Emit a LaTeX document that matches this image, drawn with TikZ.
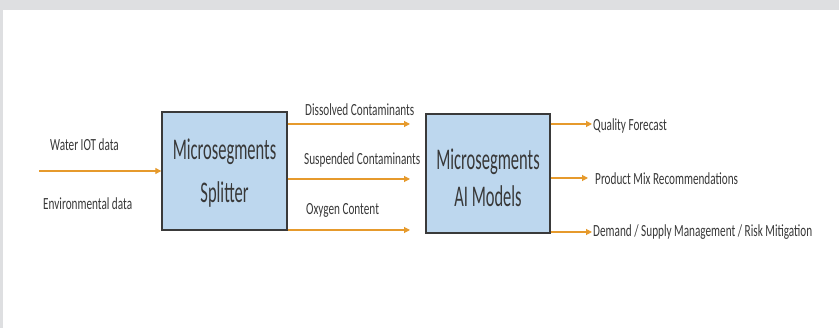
\documentclass[tikz,border=0pt]{standalone}
\usepackage{fontspec}
\usetikzlibrary{arrows.meta}
\newfontfamily\labfont[FakeStretch=0.66]{Carlito}
\newfontfamily\boxfont[FakeStretch=0.55]{Carlito}
\definecolor{flowor}{HTML}{E69A2C}
\definecolor{boxblue}{HTML}{BDD7EE}
\definecolor{boxedge}{HTML}{3A3A3A}
\definecolor{inktext}{HTML}{383838}
\definecolor{frame}{HTML}{DEDFE1}
\tikzset{
  block/.style={draw=boxedge, line width=1.4pt, fill=boxblue},
  flow/.style={draw=flowor, line width=1.1pt, -{Triangle[length=6pt,width=6pt]}},
  lab/.style={anchor=base west, inner sep=0pt, text=inktext,
    font=\labfont\fontsize{17}{19}\selectfont},
  big/.style={anchor=base, inner sep=0pt, text=inktext,
    font=\boxfont\fontsize{30}{34}\selectfont},
}
\begin{document}
\begin{tikzpicture}[x=1pt, y=-1pt]
  % page frame
  \useasboundingbox (0,0) rectangle (839,328);
  \fill[white] (0,0) rectangle (839,328);
  \fill[frame] (0,0) rectangle (839,10);
  \fill[frame] (0,0) rectangle (2.5,328);

  % processing blocks
  \node[block, minimum width=125pt, minimum height=118pt] (split) at (224.5,171) {};
  \node[block, minimum width=124pt, minimum height=119pt] (ai) at (488,173.5) {};
  \node[big] (s1) at (224.5,160) {Microsegments};
  \node[big] (s2) at (224.5,203) {Splitter};
  \node[big] (a1) at (488,170) {Microsegments};
  \node[big] (a2) at (488,207) {AI Models};

  % input
  \coordinate (in) at (39,171);
  \draw[flow] (in) -- (split.west);
  \node[lab] (w) at (50,151) {Water IOT data};
  \node[lab] (e) at (43,210) {Environmental data};

  % splitter outputs
  \coordinate (d1) at (410,124);
  \coordinate (d2) at (410,179);
  \coordinate (d3) at (410,230);
  \draw[flow] (split.east |- d1) -- (d1);
  \draw[flow] (split.east |- d2) -- (d2);
  \draw[flow] (split.east |- d3) -- (d3);
  \node[lab] (l1) at (305,115.5) {Dissolved Contaminants};
  \node[lab] (l2) at (304,165) {Suspended Contaminants};
  \node[lab] (l3) at (306,215) {Oxygen Content};

  % model outputs
  \coordinate (q1) at (592,124);
  \coordinate (q2) at (588,178);
  \coordinate (q3) at (592,232);
  \draw[flow] (ai.east |- q1) -- (q1);
  \draw[flow] (ai.east |- q2) -- (q2);
  \draw[flow] (ai.east |- q3) -- (q3);
  \node[lab] (o1) at (593,130.5) {Quality Forecast};
  \node[lab] (o2) at (595,185) {Product Mix Recommendations};
  \node[lab] (o3) at (593,237) {Demand / Supply Management / Risk Mitigation};
\end{tikzpicture}
\end{document}
